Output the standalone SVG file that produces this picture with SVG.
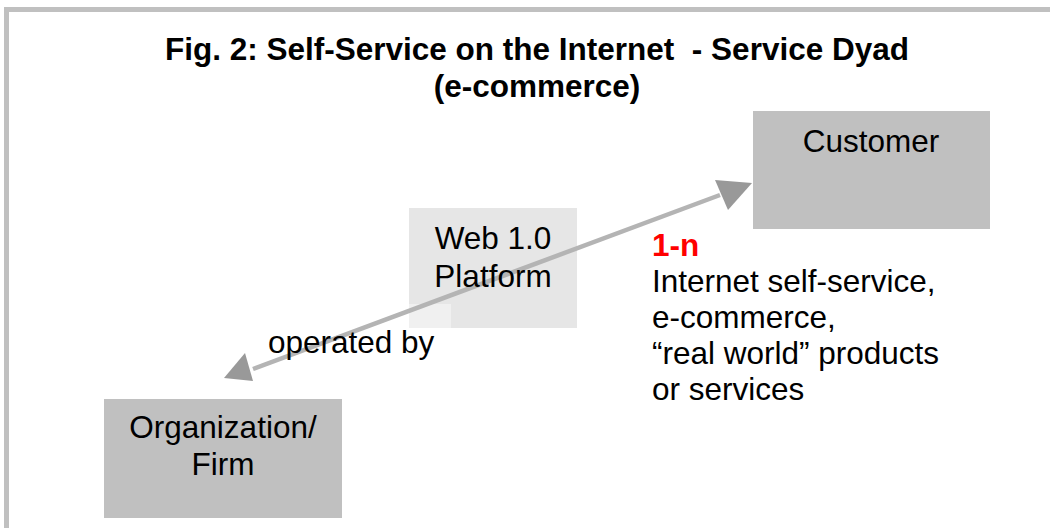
<svg xmlns="http://www.w3.org/2000/svg" width="1050" height="528" viewBox="0 0 1050 528">
<style>
text{font-family:"Liberation Sans",Arial,sans-serif;fill:#000;white-space:pre}
.t{font-size:31.5px;font-weight:bold}
.n{font-size:31.5px}
.box{fill:#c0c0c0}
</style>
<rect x="6.5" y="9.5" width="1050" height="530" fill="#fff" stroke="#c0c0c0" stroke-width="5"/>
<g id="title">
<text class="t" x="537" y="60" text-anchor="middle" xml:space="preserve">Fig. 2: Self-Service on the Internet  - Service Dyad</text>
<text class="t" x="537" y="97" text-anchor="middle">(e-commerce)</text>
</g>
<g id="customer">
<rect class="box" x="753" y="111" width="237" height="118"/>
<text class="n" x="871" y="152" text-anchor="middle">Customer</text>
</g>
<g id="organization">
<rect class="box" x="104" y="399" width="238" height="119"/>
<text class="n" x="223" y="438" text-anchor="middle">Organization/</text>
<text class="n" x="223" y="475" text-anchor="middle">Firm</text>
</g>
<g id="platform">
<rect x="409" y="208" width="168" height="120" fill="#e6e6e6"/>
<rect x="409" y="304" width="42" height="24" fill="#f0f0f0"/>
</g>
<g id="connectors">
<line x1="253" y1="369" x2="720" y2="195" stroke="#b4b4b4" stroke-width="4.5"/>
<path d="M752,183 L715,180 L728,210 Z" fill="#999"/>
<path d="M224,378 L245,353 L253,381 Z" fill="#999"/>
</g>
<g id="platform-label">
<text class="n" x="493" y="249" text-anchor="middle">Web 1.0</text>
<text class="n" x="493" y="287" text-anchor="middle">Platform</text>
</g>
<g id="labels">
<text x="268" y="353" class="n">operated by</text>
<text x="652" y="256" style="font-size:31.5px;font-weight:bold;fill:#ff0000">1-n</text>
<text class="n" x="652" y="292">Internet self-service,</text>
<text class="n" x="652" y="328">e-commerce,</text>
<text class="n" x="652" y="364">“real world” products</text>
<text class="n" x="652" y="400">or services</text>
</g>
</svg>
